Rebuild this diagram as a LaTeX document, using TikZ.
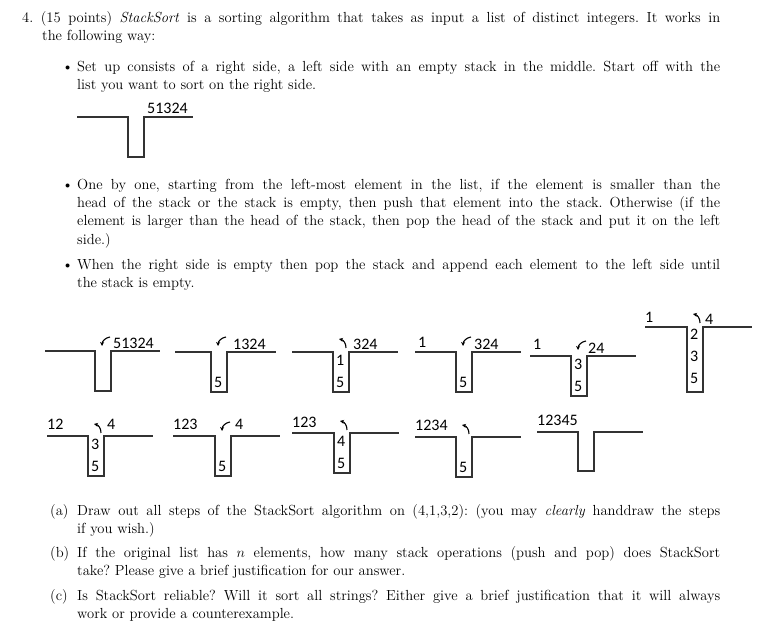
\documentclass[tikz,border=0pt]{standalone}
\usepackage{fontspec}
\newfontfamily\calf{Carlito}
\usetikzlibrary{arrows.meta}
\frenchspacing
\newcommand\JL[3]{\node[anchor=base west,inner sep=0] at (#1,#2) {\makebox[\dimexpr720pt-#1pt\relax][s]{#3}};}
\newcommand\PL[3]{\node[anchor=base west,inner sep=0] at (#1,#2) {#3};}
% stack: left x, well x, top y, bottom y
\newcommand\Stk[4]{\draw[stk] (#1,#3) -- (#2,#3) -- (#2,#4) -- ++(16,0) -- ++(0,#3-#4) -- ++(49,0);}
\newcommand\Lb[3]{\node[lab] at (#1,#2) {#3};}
\newcommand\Push[2]{\draw[arr] (#1+7,#2-8) to[bend right=40] (#1-1,#2+1);}
\newcommand\Pop[2]{\draw[arr] (#1+5,#2-1) to[bend right=40] (#1-2,#2-10);}
\begin{document}
\begin{tikzpicture}[x=1pt,y=-1pt,
  stk/.style={line width=1.1pt,black!80},
  lab/.style={anchor=base west,inner sep=0,font=\calf\fontsize{16}{16}\selectfont},
  arr/.style={line width=1.1pt,-{Stealth[length=4pt,width=4pt]}}]
\useasboundingbox (0,0) rectangle (780,636);
\fontsize{14.6}{17}\selectfont
\JL{22}{23}{4.~(15 points) \textit{StackSort} is a sorting algorithm that takes as input a list of distinct integers. It works in}
\PL{42}{41}{the following way:}
\PL{62}{72}{\textbullet}
\JL{77}{72}{Set up consists of a right side, a left side with an empty stack in the middle. Start off with the}
\PL{77}{90}{list you want to sort on the right side.}
\PL{62}{190}{\textbullet}
\JL{77}{190}{One by one, starting from the left-most element in the list, if the element is smaller than the}
\JL{77}{208}{head of the stack or the stack is empty, then push that element into the stack. Otherwise (if the}
\JL{77}{226}{element is larger than the head of the stack, then pop the head of the stack and put it on the left}
\PL{77}{245}{side.)}
\PL{62}{270}{\textbullet}
\JL{77}{270}{When the right side is empty then pop the stack and append each element to the left side until}
\PL{77}{288}{the stack is empty.}
\PL{50}{515}{(a)}
\JL{77}{515}{Draw out all steps of the StackSort algorithm on (4,1,3,2): (you may \textit{clearly} handdraw the steps}
\PL{77}{533}{if you wish.)}
\PL{50}{557}{(b)}
\JL{77}{557}{If the original list has $n$ elements, how many stack operations (push and pop) does StackSort}
\PL{77}{576}{take? Please give a brief justification for our answer.}
\PL{50}{600}{(c)}
\JL{77}{600}{Is StackSort reliable? Will it sort all strings? Either give a brief justification that it will always}
\PL{77}{618}{work or provide a counterexample.}
% example
\Stk{77}{128}{117}{157}
\Lb{147}{114}{51324}
% row 1
\Stk{45}{95}{351}{391}\Lb{113}{349}{51324}\Push{103}{345}
\Stk{175}{211}{352}{392}\Lb{233}{350}{1324}\Push{219}{345}\Lb{214}{388}{5}
\Stk{292}{333}{352}{392}\Lb{353}{350}{324}\Pop{341}{349}\Lb{336}{366}{1}\Lb{336}{388}{5}
\Stk{415}{456}{352}{392}\Lb{418}{348}{1}\Lb{474}{350}{324}\Push{464}{345}\Lb{459}{388}{5}
\Stk{530}{571}{356}{396}\Lb{533}{350}{1}\Lb{588}{354}{24}\Push{579}{349}\Lb{574}{370}{3}\Lb{574}{392}{5}
\Stk{645}{687}{327}{392}\Lb{645}{323}{1}\Lb{705}{325}{4}\Pop{695}{324}\Lb{690}{340}{2}\Lb{690}{362}{3}\Lb{690}{384}{5}
% row 2
\Stk{47}{88}{436}{476}\Lb{47}{430}{12}\Lb{107}{430}{4}\Pop{96}{434}\Lb{91}{450}{3}\Lb{91}{472}{5}
\Stk{173}{215}{436}{476}\Lb{173}{430}{123}\Lb{235}{430}{4}\Push{223}{430}\Lb{218}{472}{5}
\Stk{292}{334}{433}{473}\Lb{292}{428}{123}\Pop{342}{431}\Lb{337}{447}{4}\Lb{337}{469}{5}
\Stk{415}{456}{437}{477}\Lb{415}{431}{1234}\Pop{464}{435}\Lb{459}{473}{5}
\Stk{537}{578}{432}{471}\Lb{537}{426}{12345}
\end{tikzpicture}
\end{document}
